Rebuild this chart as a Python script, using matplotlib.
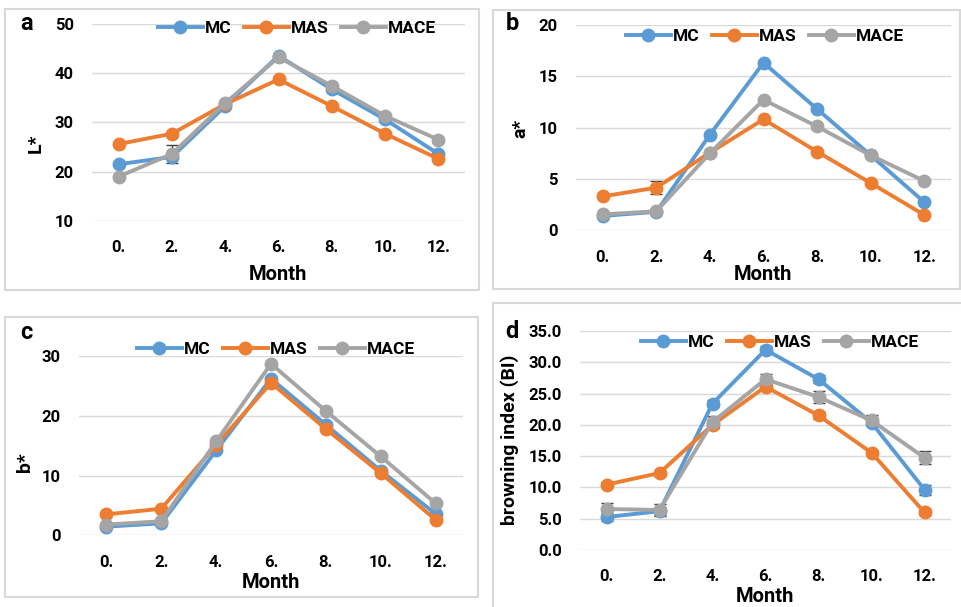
import matplotlib
matplotlib.use("Agg")
import matplotlib.pyplot as plt
from matplotlib.patches import Rectangle

plt.rcParams['font.family'] = ['Roboto', 'DejaVu Sans']
plt.rcParams['font.weight'] = 'bold'

W, H = 961, 607

months = ["0.", "2.", "4.", "6.", "8.", "10.", "12."]
groups = ["MC", "MAS", "MACE"]
colors = ["#5B9BD5", "#ED7D31", "#A5A5A5"]

# a: L*
L_mc = [21.5, 23.0, 33.3, 43.5, 36.7, 30.6, 23.6]
L_mas = [25.6, 27.7, 33.7, 38.7, 33.3, 27.7, 22.6]
L_mace = [19.0, 23.6, 33.9, 43.2, 37.4, 31.3, 26.5]
L_err_mc = [0.3, 0.5, 0.4, 0.4, 0.5, 0.4, 0.4]
L_err_mas = [0.3, 0.4, 0.3, 0.4, 0.3, 0.3, 0.3]
L_err_mace = [0.3, 1.8, 0.4, 0.4, 0.4, 0.4, 0.4]

# b: a*
a_mc = [1.4, 1.8, 9.3, 16.3, 11.8, 7.3, 2.75]
a_mas = [3.3, 4.15, 7.55, 10.8, 7.65, 4.6, 1.5]
a_mace = [1.55, 1.85, 7.5, 12.7, 10.1, 7.3, 4.8]
a_err_mc = [0.1, 0.1, 0.2, 0.2, 0.2, 0.2, 0.1]
a_err_mas = [0.1, 0.6, 0.2, 0.2, 0.2, 0.2, 0.1]
a_err_mace = [0.1, 0.1, 0.2, 0.2, 0.2, 0.2, 0.1]

# c: b*
b_mc = [1.45, 2.0, 14.2, 26.2, 18.5, 10.8, 3.6]
b_mas = [3.5, 4.45, 15.1, 25.5, 17.8, 10.4, 2.6]
b_mace = [1.8, 2.35, 15.7, 28.7, 20.8, 13.2, 5.35]
b_err_mc = [0.2, 0.2, 0.3, 0.3, 0.3, 0.3, 0.2]
b_err_mas = [0.2, 0.2, 0.3, 0.3, 0.3, 0.3, 0.2]
b_err_mace = [0.2, 0.2, 0.3, 0.3, 0.3, 0.3, 0.2]

# d: browning index
bi_mc = [5.27, 6.2, 23.4, 32.0, 27.3, 20.35, 9.65]
bi_mas = [10.45, 12.3, 20.0, 26.1, 21.5, 15.55, 6.0]
bi_mace = [6.55, 6.4, 20.45, 27.3, 24.45, 20.7, 14.75]
bi_err_mc = [0.7, 0.6, 0.6, 0.6, 0.6, 0.6, 0.8]
bi_err_mas = [0.4, 0.4, 0.5, 0.5, 0.5, 0.4, 0.4]
bi_err_mace = [0.9, 0.9, 0.9, 0.9, 0.9, 0.8, 1.0]


def fx(x):
    return x / W


def fy(y):
    return 1 - y / H


fig = plt.figure(figsize=(W / 100, H / 100), dpi=100)

# panel frames
for (x0, y0, x1, y1) in [(5, 9, 479, 290), (493, 10, 960, 289),
                         (5, 317, 478, 597), (493, 303, 966, 615)]:
    fig.patches.append(Rectangle((fx(x0), fy(y1)), fx(x1 - x0), (y1 - y0) / H,
                                 transform=fig.transFigure, fill=False,
                                 edgecolor="#D9D9D9", lw=1.5))


def panel(box, letter, letter_pos, ylabel, ylabel_pos, xlabel_pos, series, errs,
          ylim, yticks, yfmt, legend_pos):
    left, top, right, bottom = box
    ax = fig.add_axes([fx(left), fy(bottom), (right - left) / W, (bottom - top) / H])
    x = list(range(len(months)))
    for vals, err, c in zip(series, errs, colors):
        ax.errorbar(x, vals, yerr=err, fmt='none', ecolor="#404040", elinewidth=1,
                    capsize=4, capthick=1, zorder=2)
    for vals, c, name in zip(series, colors, groups):
        ax.plot(x, vals, color=c, lw=2.8, marker='o', markersize=9, label=name, zorder=3)
    ax.set_xlim(-0.5, len(months) - 0.5)
    ax.set_ylim(*ylim)
    ax.set_yticks(yticks)
    ax.set_yticklabels([yfmt.format(v) for v in yticks])
    ax.set_xticks(x)
    ax.set_xticklabels(months)
    ax.grid(axis='y', color="#D9D9D9", lw=1)
    ax.set_axisbelow(True)
    for s in ax.spines.values():
        s.set_visible(False)
    ax.tick_params(axis='both', length=0, labelsize=12)
    ax.tick_params(axis='y', pad=13)
    ax.tick_params(axis='x', pad=14)
    ax.set_xlabel("Month", fontsize=14.5, fontweight='bold', va='center')
    ax.xaxis.set_label_coords((xlabel_pos[0] - left) / (right - left),
                              -(xlabel_pos[1] - bottom) / (bottom - top))
    ax.set_ylabel(ylabel, fontsize=14, fontweight='bold', va='center')
    ax.yaxis.set_label_coords((ylabel_pos[0] - left) / (right - left),
                              (bottom - ylabel_pos[1]) / (bottom - top))
    fig.text(fx(letter_pos[0]), fy(letter_pos[1]), letter, fontsize=17,
             fontweight='bold', ha='center', va='center')
    ax.legend(loc='center', bbox_to_anchor=(fx(legend_pos[0]), fy(legend_pos[1])),
              bbox_transform=fig.transFigure, ncol=3, frameon=False,
              prop={'size': 12.5, 'weight': 'bold'}, handlelength=2.6,
              handletextpad=0.12, columnspacing=0.7, borderpad=0)
    return ax


panel((92, 23.7, 465, 221), "a", (27, 24), "L*", (36, 143), (278, 274),
      [L_mc, L_mas, L_mace], [L_err_mc, L_err_mas, L_err_mace],
      (10, 50), [10, 20, 30, 40, 50], "{:.0f}", (297, 28))

panel((576, 24.7, 951, 230.3), "b", (512, 24), "a*", (520, 128), (763, 274),
      [a_mc, a_mas, a_mace], [a_err_mc, a_err_mas, a_err_mace],
      (0, 20), [0, 5, 10, 15, 20], "{:.0f}", (765, 36))

panel((79, 356, 463, 535.3), "c", (26, 333), "b*", (25, 462), (271, 583),
      [b_mc, b_mas, b_mace], [b_err_mc, b_err_mas, b_err_mace],
      (0, 30), [0, 10, 20, 30], "{:.0f}", (276, 349))

panel((580, 331, 951, 550), "d", (512, 332), "browning index (BI)", (510, 440), (765, 597),
      [bi_mc, bi_mas, bi_mace], [bi_err_mc, bi_err_mas, bi_err_mace],
      (0, 35), [0, 5, 10, 15, 20, 25, 30, 35], "{:.1f}", (780, 342))

fig.savefig("out.png", dpi=100)
